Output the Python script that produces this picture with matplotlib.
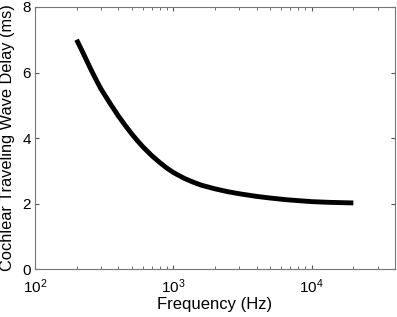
import matplotlib
matplotlib.use("Agg")
import matplotlib.pyplot as plt
from matplotlib.ticker import LogLocator, FixedLocator

plt.rcParams['font.family'] = ['Liberation Sans', 'DejaVu Sans']

# values
freq_hz = [200, 225, 250, 275, 300, 350, 400, 450, 500, 550, 600, 700, 800, 900,
           1000, 1200, 1400, 1600, 2000, 2500, 3000, 4000, 5000, 6500, 8000,
           10000, 13000, 16000, 20000]
delay_ms = [7.00, 6.56, 6.15, 5.80, 5.50, 5.05, 4.68, 4.38, 4.13, 3.92, 3.74, 3.46, 3.25, 3.08,
            2.95, 2.77, 2.65, 2.56, 2.45, 2.36, 2.30, 2.22, 2.17, 2.12, 2.09,
            2.06, 2.04, 2.03, 2.02]
y_ticks = [0, 2, 4, 6, 8]

fig = plt.figure(figsize=(3.97, 3.17), dpi=100)
ax = fig.add_axes([0.088, 0.151, 0.907, 0.827])

ax.plot(freq_hz, delay_ms, color='black', linewidth=3.5, solid_capstyle='butt')

ax.set_xscale('log')
ax.set_xlim(100, 40000)
ax.set_ylim(0, 8)
ax.yaxis.set_major_locator(FixedLocator(y_ticks))
ax.xaxis.set_major_locator(LogLocator(base=10, numticks=10))
ax.xaxis.set_minor_locator(LogLocator(base=10, subs=range(2, 10), numticks=20))

ax.tick_params(which='both', direction='in', top=True, right=True, color='#555555', labelsize=11)
ax.tick_params(which='major', length=3)
ax.tick_params(which='minor', length=2)
ax.tick_params(axis='x', pad=6)
ax.tick_params(axis='y', pad=3)
for s in ax.spines.values():
    s.set_color('#777777')
    s.set_linewidth(0.8)

ax.set_xlabel('Frequency (Hz)', fontsize=12, labelpad=1)
ax.set_ylabel('Cochlear Traveling Wave Delay (ms)', fontsize=11.8)
ax.yaxis.set_label_coords(-0.056, 0.5)

fig.savefig('out.png', dpi=100)
